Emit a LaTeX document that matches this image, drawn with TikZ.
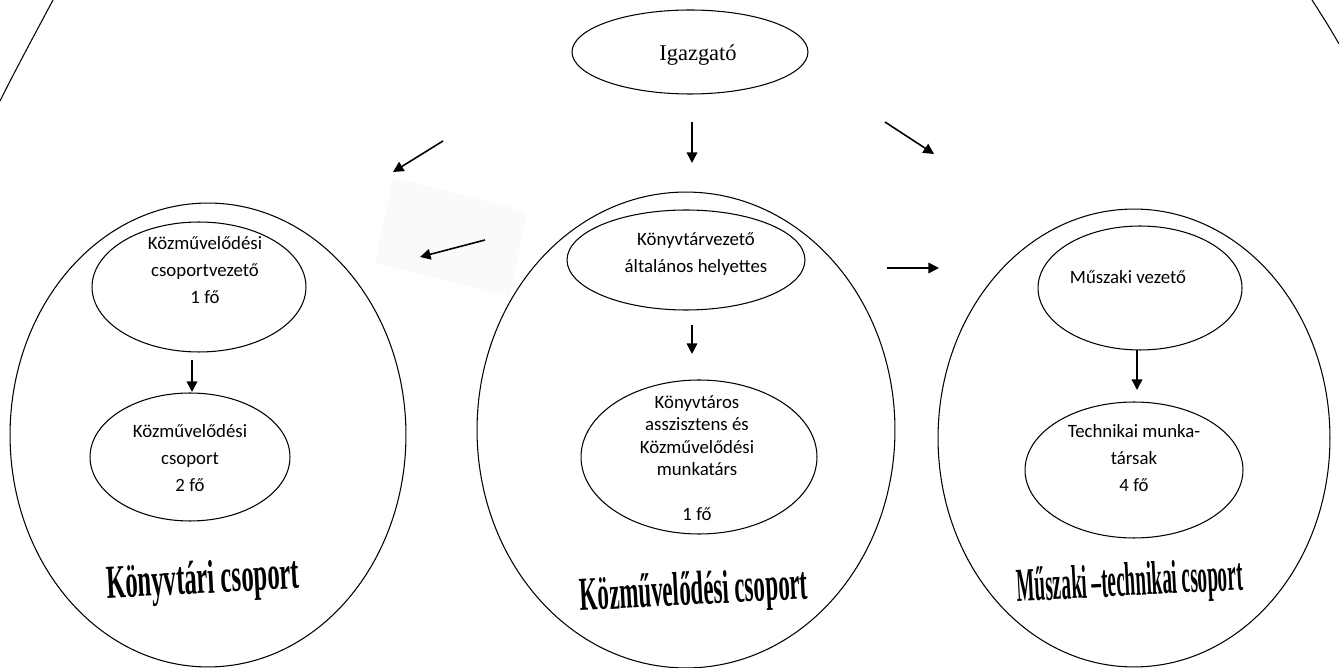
\documentclass[tikz,border=0pt]{standalone}
\usepackage{graphicx}
\usepackage{fontspec}
\setmainfont{Liberation Serif}
\newfontfamily\calibri{Carlito}
\usetikzlibrary{shapes.geometric,arrows.meta}

\begin{document}
\begin{tikzpicture}[x=0.02cm,y=-0.02cm]
		\tikzset{
			kor/.style = {draw, ellipse, line width=0.6pt, inner sep=0pt},
			szoveg/.style = {align=center, inner sep=0pt, font=\calibri\fontsize{10.7}{15.6}\selectfont},
			nyil/.style = {-{Triangle[length=6pt,width=6pt]}, line width=0.9pt},
			cim/.style = {inner sep=0pt, font=\fontsize{27}{30}\selectfont\bfseries},
		}

		\useasboundingbox (0,0) rectangle (1339,668);
		% the great outer ring, only its top corners show
		\draw[line width=0.6pt] (53,0) .. controls (36,32) and (18,65) .. (0,101);
		\draw[line width=0.6pt] (1312,0) .. controls (1321,14) and (1330,28) .. (1339,44);
		% faint pasted patch behind the left arrow
		\fill[black!2] (393,177) -- (527,212) -- (510,297) -- (375,263) -- cycle;

		\node[kor, minimum width=4.72cm, minimum height=1.68cm] (igazgato) at (690,52) {};
		\node[inner sep=0pt, font=\fontsize{12.8}{15}\selectfont] (igazgato-t) at (698,55) {Igazgató};

		% groups
		\node[kor, minimum width=7.92cm, minimum height=9.28cm] (konyvtar) at (208,435) {};
		\node[kor, minimum width=8.36cm, minimum height=9.52cm] (kozmuv) at (686,430) {};
		\node[kor, minimum width=7.84cm, minimum height=9.16cm] (muszaki) at (1134,438) {};

		% left group
		\node[kor, minimum width=4.28cm, minimum height=2.6cm] (k-vez) at (199,287) {};
		\node[szoveg] (k-vez-t) at (205,270) {Közművelődési\\csoportvezető\\1 fő};
		\node[kor, minimum width=4cm, minimum height=2.56cm] (k-csop) at (190,457) {};
		\node[szoveg] (k-csop-t) at (190,458) {Közművelődési\\csoport\\2 fő};
		\node[cim, rotate=3] (konyvtar-cim) at (203,582) {\resizebox{3.86cm}{\height}{Könyvtári csoport}};

		% middle group
		\node[kor, minimum width=4.76cm, minimum height=2cm] (m-vez) at (686,260) {};
		\node[szoveg] (m-vez-t) at (696,254) {Könyvtárvezető\\általános helyettes};
		\node[kor, minimum width=4.72cm, minimum height=3.08cm] (m-munk) at (699,457) {};
		\node[szoveg, font=\calibri\fontsize{10.7}{12.8}\selectfont] (m-munk-t) at (697,458)
			{Könyvtáros\\asszisztens és\\Közművelődési\\munkatárs\\[12.8pt]1 fő};
		\node[cim, rotate=3] (kozmuv-cim) at (694,593) {\resizebox{4.56cm}{\height}{Közművelődési csoport}};

		% right group
		\node[kor, minimum width=4.08cm, minimum height=2.48cm] (r-vez) at (1140,288) {};
		\node[szoveg] (r-vez-t) at (1128,277) {Műszaki vezető};
		\node[kor, minimum width=4.36cm, minimum height=2.72cm] (r-tech) at (1134,470) {};
		\node[szoveg] (r-tech-t) at (1134,458) {Technikai munka-\\társak\\4 fő};
		\node[cim, rotate=3] (muszaki-cim) at (1130,584) {\resizebox{4.52cm}{\height}{Műszaki –technikai csoport}};

		% arrows, loose ends
		\coordinate (le1) at (692,122);   \coordinate (le2) at (692,163);
		\coordinate (bal1) at (443,141);  \coordinate (bal2) at (393,172);
		\coordinate (jobb1) at (885,122); \coordinate (jobb2) at (934,154);
		\coordinate (bal3) at (485,240);  \coordinate (bal4) at (420,257);
		\coordinate (jobb3) at (887,268); \coordinate (jobb4) at (939,268);
		\coordinate (k1) at (192,360);    \coordinate (k2) at (192,392);
		\coordinate (m1) at (692,325);    \coordinate (m2) at (692,354);
		\coordinate (r1) at (1137,350);   \coordinate (r2) at (1137,390);

		\draw[nyil] (le1) -- (le2);
		\draw[nyil] (bal1) -- (bal2);
		\draw[nyil] (jobb1) -- (jobb2);
		\draw[nyil] (bal3) -- (bal4);
		\draw[nyil] (jobb3) -- (jobb4);
		\draw[nyil] (k1) -- (k2);
		\draw[nyil] (m1) -- (m2);
		\draw[nyil] (r1) -- (r2);
	\end{tikzpicture}
\end{document}
